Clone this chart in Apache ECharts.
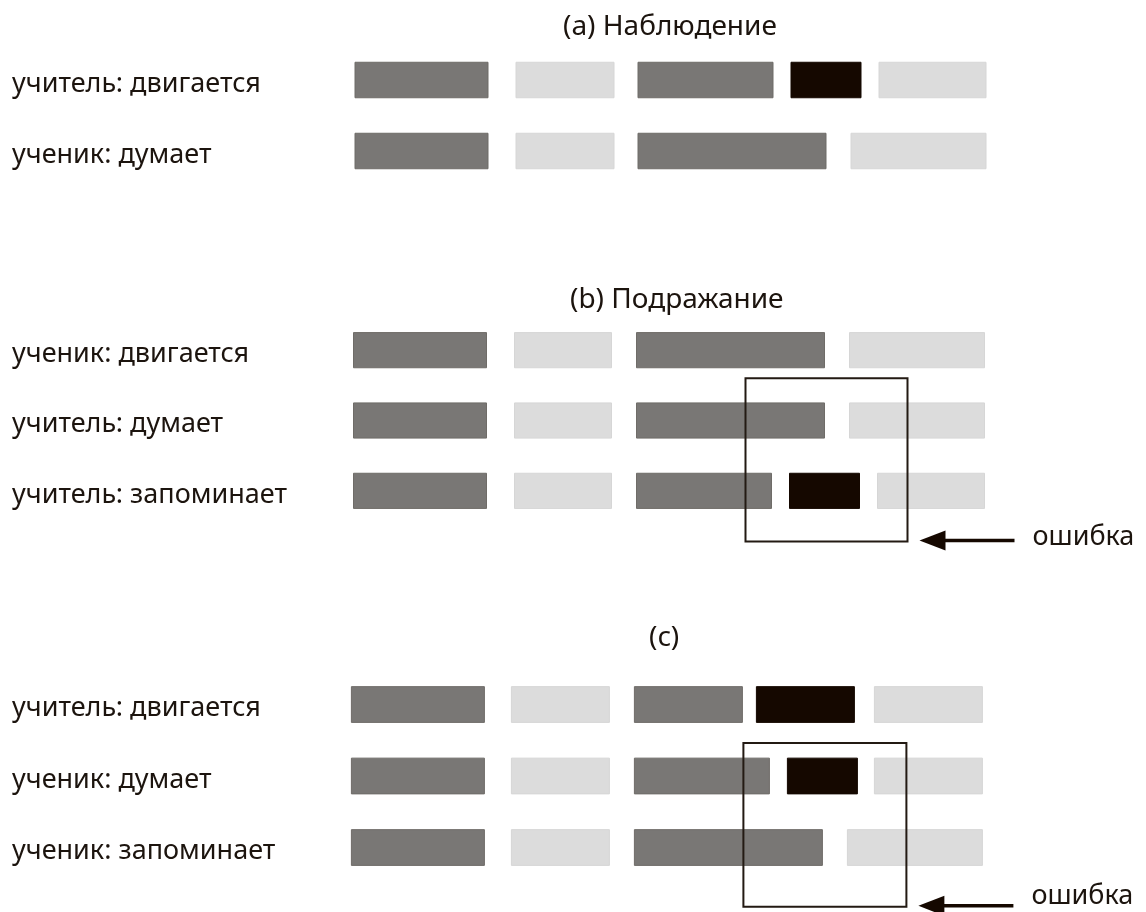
<!DOCTYPE html>
<html>
<head>
<meta charset="utf-8">
<script src="https://cdn.jsdelivr.net/npm/echarts@6/dist/echarts.min.js"></script>
<style>
  html, body { margin: 0; padding: 0; background: #fff; }
  #chart { width: 1146px; height: 912px; }
</style>
</head>
<body>
<div id="chart"></div>
<script>
// panel titles
const panelTitles = ['(a) Наблюдение', '(b) Подражание', '(c)'];

// row names of each panel
const rowsA = ['учитель: двигается', 'ученик: думает'];
const rowsB = ['ученик: двигается', 'учитель: думает', 'учитель: запоминает'];
const rowsC = ['учитель: двигается', 'ученик: думает', 'ученик: запоминает'];

// segments: [row, start, end, kind]   kind 0 = active, 1 = idle, 2 = key moment
const segmentsA = [
  [0, 0, 133, 0], [0, 161, 259, 1], [0, 283, 418, 0], [0, 436, 506, 2], [0, 524, 631, 1],
  [1, 0, 133, 0], [1, 161, 259, 1], [1, 283, 471, 0], [1, 496, 631, 1]
];
const segmentsB = [
  [0, 0, 133, 0], [0, 161, 258, 1], [0, 283, 471, 0], [0, 496, 631, 1],
  [1, 0, 133, 0], [1, 161, 258, 1], [1, 283, 471, 0], [1, 496, 631, 1],
  [2, 0, 133, 0], [2, 161, 258, 1], [2, 283, 418, 0], [2, 436, 506, 2], [2, 524, 631, 1]
];
const segmentsC = [
  [0, 0, 133, 0], [0, 160, 258, 1], [0, 283, 391, 0], [0, 405, 503, 2], [0, 523, 631, 1],
  [1, 0, 133, 0], [1, 160, 258, 1], [1, 283, 418, 0], [1, 436, 506, 2], [1, 523, 631, 1],
  [2, 0, 133, 0], [2, 160, 258, 1], [2, 283, 471, 0], [2, 496, 631, 1]
];

// error boxes: [start, end, top, bottom]  (top/bottom in rows, from the first row)
const errorB = [[392, 554, 0.4, 2.72]];
const errorC = [[392, 555, 0.54, 2.83]];
const errorLabel = 'ошибка';

const timeMax = 631;

const kindColors = ['#797775', '#dcdcdc', '#150800'];
const kindStroke = ['#6f6c68', '#d6d6d6', '#150800'];
const textColor = '#1c140e';
const font = 'Noto Sans';

const chart = echarts.init(document.getElementById('chart'));

const renderSegment = (params, api) => {
  const row = api.value(0);
  const p0 = api.coord([api.value(1), row]);
  const p1 = api.coord([api.value(2), row]);
  const h = api.size([0, 1])[1] * 0.5;
  const kind = api.value(3);
  return {
    type: 'rect',
    shape: { x: p0[0], y: p0[1] - h / 2, width: p1[0] - p0[0], height: h },
    style: { fill: kindColors[kind], stroke: kindStroke[kind], lineWidth: 1 }
  };
};

// box around the error, arrow pointing at it and its label
const makeErrorRender = (labelLift) => (params, api) => {
  const base = api.coord([api.value(0), 0]);
  const right = api.coord([api.value(1), 0])[0];
  const band = api.size([0, 1])[1];
  const yTop = base[1] + api.value(2) * band;
  const yBot = base[1] + api.value(3) * band;
  const ya = yBot - 1;
  return {
    type: 'group',
    children: [
      {
        type: 'rect',
        shape: { x: base[0], y: yTop, width: right - base[0], height: yBot - yTop },
        style: { fill: 'none', stroke: '#231a13', lineWidth: 2 }
      },
      {
        type: 'line',
        shape: { x1: right + 34, y1: ya, x2: right + 107, y2: ya },
        style: { stroke: '#150800', lineWidth: 3.5 }
      },
      {
        type: 'polygon',
        shape: { points: [[right + 12, ya], [right + 38, ya - 10], [right + 38, ya + 10]] },
        style: { fill: '#150800' }
      },
      {
        type: 'text',
        style: {
          x: right + 125, y: ya - labelLift, text: errorLabel,
          fill: textColor, font: '27px "' + font + '"',
          verticalAlign: 'middle', align: 'left'
        }
      }
    ]
  };
};

const panels = [
  { rows: rowsA, segs: segmentsA, err: null, left: 355, top: 44.5, height: 142 },
  { rows: rowsB, segs: segmentsB, err: errorB, lift: 3, left: 353.5, top: 315, height: 211 },
  { rows: rowsC, segs: segmentsC, err: errorC, lift: 10, left: 351.4, top: 668.75, height: 214.5 }
];

const grid = [], xAxis = [], yAxis = [], series = [];
panels.forEach((p, i) => {
  grid.push({ left: p.left, top: p.top, width: timeMax, height: p.height });
  xAxis.push({ type: 'value', gridIndex: i, min: 0, max: timeMax, show: false });
  yAxis.push({
    type: 'category', gridIndex: i, data: p.rows, inverse: true,
    axisLine: { show: false }, axisTick: { show: false }, splitLine: { show: false },
    axisLabel: {
      align: 'left', margin: p.left - 12,
      formatter: (v) => '{n|' + v + '}',
      rich: {
        n: { fontFamily: font, fontSize: 27, color: textColor, padding: [8, 0, 0, 0] }
      }
    }
  });
  series.push({
    type: 'custom', xAxisIndex: i, yAxisIndex: i,
    renderItem: renderSegment,
    encode: { x: [1, 2], y: 0 },
    data: p.segs
  });
  if (p.err) {
    series.push({
      type: 'custom', xAxisIndex: i, yAxisIndex: i,
      renderItem: makeErrorRender(p.lift),
      encode: { x: [0, 1] },
      data: p.err
    });
  }
});

const titleLeft = [563, 570, 649];
const titleTop = [13, 286, 624];

chart.setOption({
  animation: false,
  backgroundColor: '#ffffff',
  title: panelTitles.map((t, i) => ({
    text: t, left: titleLeft[i], top: titleTop[i], padding: 0,
    textStyle: { fontFamily: font, fontSize: 28, fontWeight: 'normal', color: textColor }
  })),
  grid: grid,
  xAxis: xAxis,
  yAxis: yAxis,
  series: series
});

window.addEventListener('resize', () => chart.resize());
</script>
</body>
</html>
